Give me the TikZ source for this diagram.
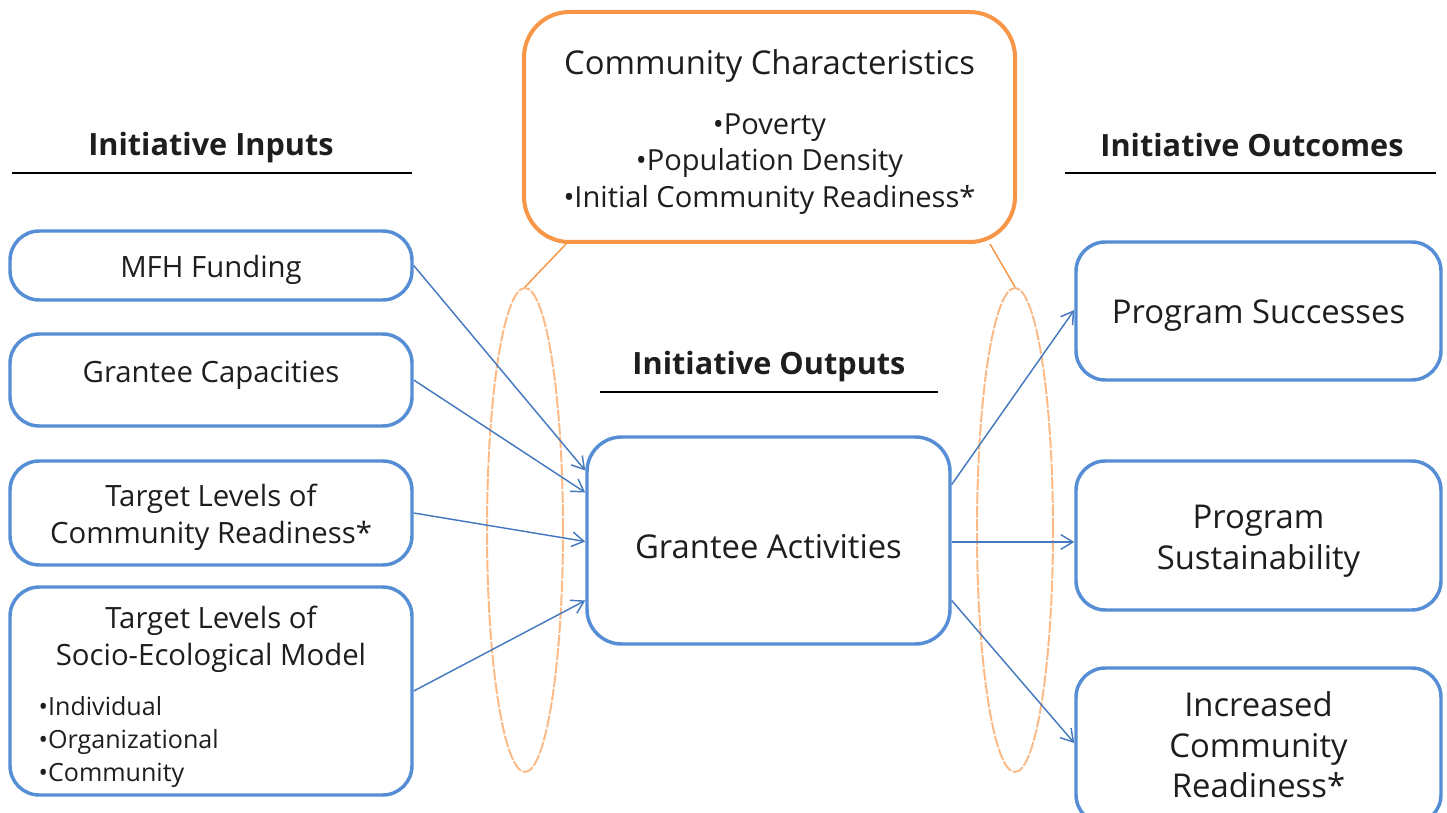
\documentclass[tikz,border=0pt]{standalone}
\usepackage{fontspec}
\setmainfont{Open Sans}
\usetikzlibrary{arrows.meta,calc,shapes.geometric}
\definecolor{boxblue}{RGB}{85,142,213}
\definecolor{arrowblue}{RGB}{70,122,190}
\definecolor{frameorange}{RGB}{247,150,70}
\definecolor{ringorange}{RGB}{250,175,115}
\definecolor{ink}{RGB}{30,30,30}
\begin{document}
\begin{tikzpicture}[x=0.75pt,y=-0.75pt,
  every node/.style={text=ink},
  bluebox/.style={draw=boxblue,line width=2.6pt,rounded corners=22pt,
    inner sep=0pt,fill=white},
  orangebox/.style={draw=frameorange,line width=3pt,rounded corners=34pt,
    inner sep=0pt,fill=white},
  ring/.style={draw=ringorange,line width=1.5pt,ellipse,inner sep=0pt,
    dash pattern=on 9pt off 1.2pt,opacity=0.85},
  tie/.style={draw=frameorange,line width=1.1pt},
  flow/.style={draw=arrowblue,line width=1.1pt,
    -{Straight Barb[length=9pt,width=11pt,line width=1.1pt]}},
  bigtext/.style={font=\fontsize{24.6}{30.5}\selectfont,align=center},
  midtext/.style={font=\fontsize{22}{27.8}\selectfont,align=center},
  smalltext/.style={font=\fontsize{18.8}{24.4}\selectfont},
  toptext/.style={font=\fontsize{21.8}{27.4}\selectfont,align=center},
  heading/.style={font=\fontsize{23}{27}\selectfont\bfseries},
  rule/.style={draw=black,line width=1.1pt}
]
\useasboundingbox (0,0) rectangle (1447,813);

% dashed rings around the input and outcome arrows
\node[ring,minimum width=76*0.75pt,minimum height=484*0.75pt] (lring) at (525,530) {};
\node[ring,minimum width=76*0.75pt,minimum height=484*0.75pt] (rring) at (1015,530) {};

% community characteristics
\node[orangebox,minimum width=491*0.75pt,minimum height=230*0.75pt] (cc) at (769.5,127) {};
\node[bigtext] (cctitle) at (769.5,65.5) {Community Characteristics};
\node[toptext] (cclist) at (769.5,164)
  {•Poverty\\•Population Density\\•Initial Community Readiness*};

\draw[tie] ($(cc.south west)+(44,0)$) -- (lring.north);
\draw[tie] ($(cc.south east)+(-27,0)$) -- (rring.north);

% headings
\node[heading] (hin) at (211,148) {Initiative Inputs};
\draw[rule] (12,173) -- (412,173);
\node[heading] (hout) at (1252,145.5) {Initiative Outcomes};
\draw[rule] (1065,173) -- (1436,173);
\node[heading] (hmid) at (769,366.5) {Initiative Outputs};
\draw[rule] (600,392) -- (938,392);

% inputs
\node[bluebox,minimum width=402*0.75pt,minimum height=69*0.75pt] (mfh) at (211,265.5) {};
\node[midtext] (mfht) at (211,269.5) {MFH Funding};
\node[bluebox,minimum width=402*0.75pt,minimum height=92*0.75pt] (gc) at (211,380) {};
\node[midtext] (gct) at (211,375.5) {Grantee Capacities};
\node[bluebox,minimum width=402*0.75pt,minimum height=104*0.75pt] (tcr) at (211,513) {};
\node[midtext] (tcrt) at (211,517) {Target Levels of\\Community Readiness*};
\node[bluebox,minimum width=402*0.75pt,minimum height=208*0.75pt] (sem) at (211,691) {};
\node[midtext] (semt) at (211,639) {Target Levels of\\Socio-Ecological Model};
\node[smalltext,align=left,anchor=west] (semlist) at (34,742) {•Individual\\•Organizational\\•Community};

% output
\node[bluebox,rounded corners=26pt,minimum width=363*0.75pt,minimum height=207*0.75pt] (ga) at (768.5,540.5) {};
\node[bigtext] (gat) at (768.5,546.5) {Grantee Activities};

% outcomes
\node[bluebox,minimum width=365*0.75pt,minimum height=138*0.75pt] (ps) at (1258.5,311) {};
\node[bigtext] (pst) at (1258.5,316) {Program Successes};
\node[bluebox,minimum width=365*0.75pt,minimum height=149*0.75pt] (psu) at (1258.5,535.5) {};
\node[bigtext] (psut) at (1258.5,541) {Program\\Sustainability};
\node[bluebox,minimum width=365*0.75pt,minimum height=156*0.75pt] (icr) at (1258.5,746) {};
\node[bigtext] (icrt) at (1258.5,745) {Increased\\Community\\Readiness*};

% flows into the activities
\draw[flow] (mfh.east) -- ($(ga.west)+(0,-70)$);
\draw[flow] (gc.east) -- ($(ga.west)+(0,-48)$);
\draw[flow] (tcr.east) -- ($(ga.west)+(0,1)$);
\draw[flow] (sem.east) -- ($(ga.west)+(0,60)$);

% flows out to the outcomes
\draw[flow] ($(ga.east)+(0,-56)$) -- ($(ps.west)+(0,-1)$);
\draw[flow] ($(ga.east)+(0,1.5)$) -- ($(ga.east -| psu.west)+(0,1.5)$);
\draw[flow] ($(ga.east)+(0,60)$) -- ($(icr.west)+(0,-3)$);
\end{tikzpicture}
\end{document}
